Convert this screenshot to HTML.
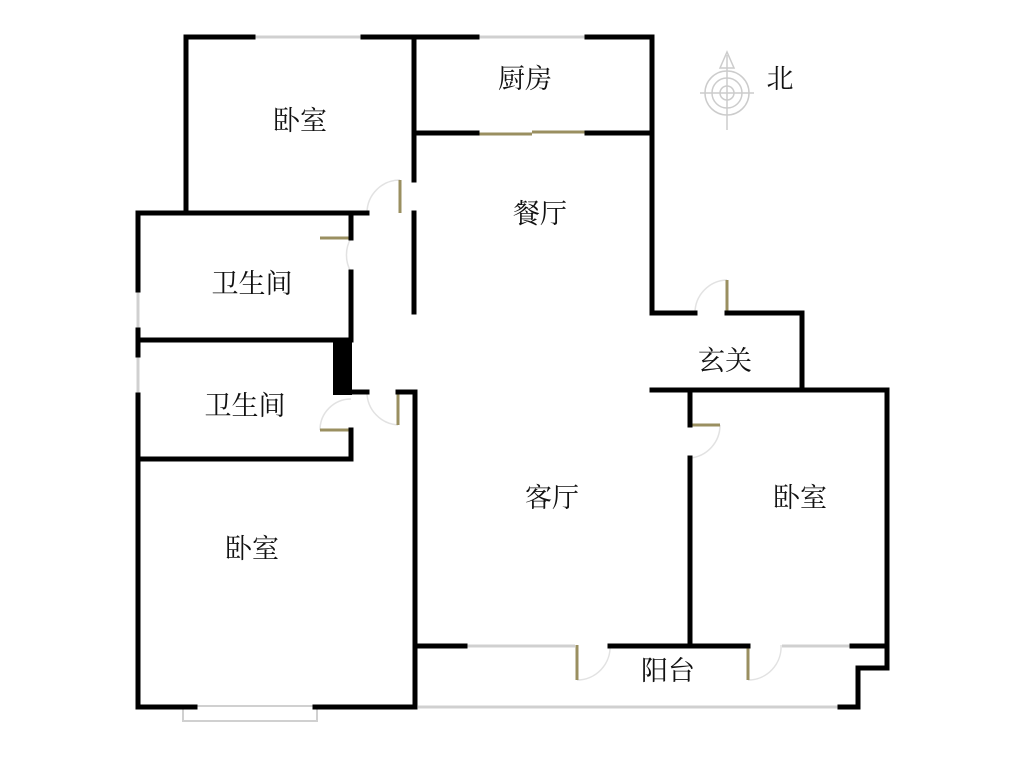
<!DOCTYPE html>
<html><head><meta charset="utf-8"><style>
html,body{margin:0;padding:0;background:#fff;width:1024px;height:768px;overflow:hidden}
svg text{font-family:"Liberation Serif","Noto Serif CJK SC",serif;font-size:27px;fill:#111;text-anchor:middle}
</style></head><body>
<svg width="1024" height="768" viewBox="0 0 1024 768" xmlns="http://www.w3.org/2000/svg">
<g stroke="#d0d0d0" stroke-width="3" fill="none">
<line x1="253" y1="37" x2="363" y2="37"/>
<line x1="477" y1="37" x2="587" y2="37"/>
<line x1="138" y1="290" x2="138" y2="330"/>
<line x1="138" y1="355" x2="138" y2="395"/>
<line x1="465" y1="646" x2="575" y2="646"/>
<line x1="782" y1="646" x2="852" y2="646"/>
<line x1="418" y1="707" x2="838" y2="707"/>
<rect x="183" y="706" width="134" height="15" stroke-width="2"/>
</g>
<g stroke="#e2e2e2" stroke-width="1.5" fill="none">
<path d="M400 180 A33 33 0 0 0 367 213"/>
<path d="M351 238 A34 34 0 0 0 351 272"/>
<path d="M367 392 A33 33 0 0 0 398 425"/>
<path d="M320 430 A31 31 0 0 1 351 399"/>
<path d="M727 280 A33 33 0 0 0 695 313"/>
<path d="M720 425 A33 33 0 0 1 690 458"/>
<path d="M577 680 A33 33 0 0 0 610 645"/>
<path d="M748 680 A33 33 0 0 0 781 645"/>
</g>
<g stroke="#9a8f60" stroke-width="3" fill="none">
<line x1="400" y1="180" x2="400" y2="213"/>
<line x1="320" y1="238" x2="351" y2="238"/>
<line x1="398" y1="392" x2="398" y2="425"/>
<line x1="320" y1="430" x2="351" y2="430"/>
<line x1="727" y1="280" x2="727" y2="313"/>
<line x1="690" y1="425" x2="720" y2="425"/>
<line x1="577" y1="645" x2="577" y2="680"/>
<line x1="748" y1="645" x2="748" y2="680"/>
<line x1="477" y1="134" x2="532" y2="134"/>
<line x1="532" y1="132" x2="587" y2="132"/>
</g>
<g stroke="#000" stroke-width="5" fill="none" stroke-linecap="square">
<polyline points="186,213 186,37 253,37"/>
<line x1="363" y1="37" x2="477" y2="37"/>
<polyline points="587,37 652,37 652,313 695,313"/>
<line x1="414" y1="37" x2="414" y2="180"/>
<line x1="414" y1="213" x2="414" y2="312"/>
<line x1="414" y1="133" x2="477" y2="133"/>
<line x1="587" y1="133" x2="652" y2="133"/>
<polyline points="367,213 138,213 138,290"/>
<line x1="138" y1="330" x2="138" y2="355"/>
<polyline points="138,395 138,707 195,707"/>
<polyline points="315,707 415,707"/>
<line x1="351" y1="213" x2="351" y2="238"/>
<line x1="351" y1="272" x2="351" y2="340"/>
<line x1="138" y1="340" x2="351" y2="340"/>
<line x1="352" y1="392" x2="367" y2="392"/>
<polyline points="398,392 415,392 415,707"/>
<line x1="351" y1="430" x2="351" y2="459"/>
<line x1="138" y1="459" x2="351" y2="459"/>
<polyline points="727,313 802,313 802,390"/>
<polyline points="652,390 887,390 887,668 858,668 858,707 840,707"/>
<line x1="690" y1="390" x2="690" y2="425"/>
<line x1="690" y1="458" x2="690" y2="645"/>
<line x1="415" y1="646" x2="465" y2="646"/>
<line x1="610" y1="646" x2="748" y2="646"/>
<line x1="852" y1="646" x2="887" y2="646"/>
</g>
<rect x="333" y="340" width="19" height="55" fill="#000"/>
<g stroke="#ccc" stroke-width="1.5" fill="none">
<circle cx="727" cy="93" r="22"/><circle cx="727" cy="93" r="15"/><circle cx="727" cy="93" r="7"/>
<line x1="700" y1="93" x2="754" y2="93"/><line x1="727" y1="55" x2="727" y2="130"/>
<path d="M720 68 L727 52 L734 68 Z"/>
</g>
<text x="300" y="130">卧室</text>
<text x="525" y="88">厨房</text>
<text x="540" y="223">餐厅</text>
<text x="252" y="293">卫生间</text>
<text x="245" y="415">卫生间</text>
<text x="725" y="370">玄关</text>
<text x="552" y="507">客厅</text>
<text x="800" y="507">卧室</text>
<text x="252" y="558">卧室</text>
<text x="668" y="680">阳台</text>
<text x="780" y="88">北</text>
</svg>
</body></html>
